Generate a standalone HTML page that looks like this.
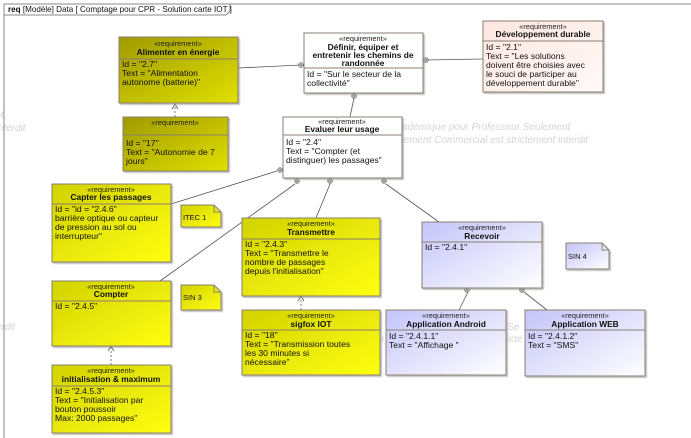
<!DOCTYPE html>
<html><head><meta charset="utf-8"><style>
html,body{margin:0;padding:0;background:#fff;}
svg{display:block;font-family:"Liberation Sans",sans-serif;}
.st{font-size:7.4px;text-anchor:middle;fill:#222}
.ti{font-size:8.4px;font-weight:bold;text-anchor:middle;fill:#111}
.bd{font-size:8.6px;fill:#111}
.wm{font-size:10px;font-style:italic;fill:#d4d4d4}
</style></head><body>
<svg width="691" height="438" viewBox="0 0 691 438">
<defs>
<linearGradient id="y" x1="0" y1="0" x2="1" y2="1"><stop offset="0" stop-color="#d2d200"/><stop offset="1" stop-color="#ffff10"/></linearGradient>
<linearGradient id="o" x1="0" y1="0" x2="1" y2="1"><stop offset="0" stop-color="#a09a00"/><stop offset="1" stop-color="#e0e000"/></linearGradient>
<linearGradient id="p" x1="0" y1="0" x2="1" y2="1"><stop offset="0" stop-color="#c4c4fa"/><stop offset="1" stop-color="#ffffff"/></linearGradient>
<linearGradient id="r" x1="0" y1="0" x2="1" y2="1"><stop offset="0" stop-color="#ffe6e0"/><stop offset="1" stop-color="#fffaf8"/></linearGradient>
<filter id="sh"><feDropShadow dx="1.5" dy="1.5" stdDeviation="0.6" flood-color="#999" flood-opacity="0.6"/></filter>
</defs>
<rect width="691" height="438" fill="#fff"/>
<text class="wm" x="-10" y="118">ent</text><text class="wm" x="-10" y="131">t interdit</text>
<text class="wm" x="402" y="130">adémique pour Professeur Seulement</text>
<text class="wm" x="398" y="143">pement Commercial est strictement interdit</text>
<text class="wm" x="-4" y="330">erdit</text>
<text class="wm" x="362" y="330">n Ac</text><text class="wm" x="360" y="342">velop</text>
<text class="wm" x="507" y="330">Se</text><text class="wm" x="507" y="342">icte</text>
<path d="M4 438 V4 H691" fill="none" stroke="#888" stroke-width="1"/>
<path d="M4 15 H226 L230 11 V4" fill="none" stroke="#888" stroke-width="1"/>
<text x="8" y="12" style="font-size:8.1px" fill="#111"><tspan font-weight="bold">req</tspan> [Modèle] Data [ Comptage pour CPR - Solution carte IOT ]</text>

<g stroke="#555" stroke-width="0.8" fill="none">
<line x1="238" y1="68" x2="301" y2="65"/>
<line x1="426" y1="60" x2="483" y2="59"/>
<line x1="354" y1="98" x2="350" y2="117"/>
<line x1="171" y1="204" x2="277" y2="171"/>
<line x1="295" y1="184" x2="160" y2="281"/>
<line x1="330" y1="184" x2="316" y2="218"/>
<line x1="386" y1="184" x2="439" y2="222"/>
<line x1="468" y1="292" x2="459" y2="310"/>
<line x1="524" y1="292" x2="547" y2="310"/>
<line x1="175" y1="117" x2="175" y2="105" stroke-dasharray="2,2"/>
<path d="M172 109 L175 104 L178 109"/>
<line x1="111" y1="365" x2="111" y2="347" stroke-dasharray="2,2"/>
<path d="M108 351 L111 346 L114 351"/>
<line x1="301" y1="310" x2="301" y2="297" stroke-dasharray="2,2"/>
<path d="M298 301 L301 296 L304 301"/>
</g>
<g stroke="#555" stroke-width="0.7" fill="#fff">
<circle cx="301" cy="65" r="2.3"/><path d="M298.7 65h4.6M301 62.7v4.6"/>
<circle cx="426" cy="60" r="2.3"/><path d="M423.7 60h4.6M426 57.7v4.6"/>
<circle cx="354" cy="96" r="2.3"/><path d="M351.7 96h4.6M354 93.7v4.6"/>
<circle cx="280" cy="170" r="2.3"/><path d="M277.7 170h4.6M280 167.7v4.6"/>
<circle cx="297" cy="181" r="2.3"/><path d="M294.7 181h4.6M297 178.7v4.6"/>
<circle cx="330" cy="181" r="2.3"/><path d="M327.7 181h4.6M330 178.7v4.6"/>
<circle cx="384" cy="181" r="2.3"/><path d="M381.7 181h4.6M384 178.7v4.6"/>
<circle cx="467" cy="290" r="2.3"/><path d="M464.7 290h4.6M467 287.7v4.6"/>
<circle cx="522" cy="290" r="2.3"/><path d="M519.7 290h4.6M522 287.7v4.6"/>
</g>

<g stroke="#8a7f70" stroke-width="1">
<rect x="119" y="37" width="119" height="66" fill="url(#o)" filter="url(#sh)"/>
<line x1="119" y1="59" x2="238" y2="59"/>
<rect x="123" y="117" width="105" height="54" fill="url(#o)" filter="url(#sh)"/>
<line x1="123" y1="135" x2="228" y2="135"/>
<rect x="304" y="33" width="119" height="60" fill="#fff" filter="url(#sh)"/>
<line x1="304" y1="68" x2="423" y2="68"/>
<rect x="483" y="21" width="120" height="71" fill="url(#r)" filter="url(#sh)"/>
<line x1="483" y1="41" x2="603" y2="41"/>
<rect x="283" y="117" width="119" height="61" fill="#fff" filter="url(#sh)"/>
<line x1="283" y1="135" x2="402" y2="135"/>
<rect x="52" y="184" width="119" height="78" fill="url(#y)" filter="url(#sh)"/>
<line x1="52" y1="204" x2="171" y2="204"/>
<rect x="52" y="281" width="119" height="65" fill="url(#y)" filter="url(#sh)"/>
<line x1="52" y1="301" x2="171" y2="301"/>
<rect x="52" y="365" width="119" height="68" fill="url(#y)" filter="url(#sh)"/>
<line x1="52" y1="386" x2="171" y2="386"/>
<rect x="242" y="218" width="138" height="78" fill="url(#y)" filter="url(#sh)"/>
<line x1="242" y1="239" x2="380" y2="239"/>
<rect x="242" y="310" width="138" height="65" fill="url(#y)" filter="url(#sh)"/>
<line x1="242" y1="330" x2="380" y2="330"/>
<rect x="422" y="222" width="120" height="66" fill="url(#p)" filter="url(#sh)"/>
<line x1="422" y1="242" x2="542" y2="242"/>
<rect x="386" y="310" width="120" height="65" fill="url(#p)" filter="url(#sh)"/>
<line x1="386" y1="330" x2="506" y2="330"/>
<rect x="525" y="310" width="120" height="66" fill="url(#p)" filter="url(#sh)"/>
<line x1="525" y1="330" x2="645" y2="330"/>
<path d="M181 205 H214 L221 212 V227 H181 Z" fill="url(#y)" filter="url(#sh)"/>
<path d="M214 205 V212 H221" fill="none"/>
<path d="M181 285 H214 L221 292 V310 H181 Z" fill="url(#y)" filter="url(#sh)"/>
<path d="M214 285 V292 H221" fill="none"/>
<path d="M566 243 H602 L609 250 V269 H566 Z" fill="url(#p)" filter="url(#sh)"/>
<path d="M602 243 V250 H609" fill="none"/>
</g>

<text class="st" x="178" y="46">«requirement»</text>
<text class="ti" x="178" y="55">Alimenter en énergie</text>
<text class="bd" x="122" y="67">Id = "2.7"</text>
<text class="bd" x="122" y="76">Text = "Alimentation</text>
<text class="bd" x="122" y="85">autonome (batterie)"</text>

<text class="st" x="175" y="125">«requirement»</text>
<text class="bd" x="126" y="146">Id = "17"</text>
<text class="bd" x="126" y="155">Text = "Autonomie de 7</text>
<text class="bd" x="126" y="164">jours"</text>

<text class="st" x="363" y="41">«requirement»</text>
<text class="ti" x="363" y="50">Définir, équiper et</text>
<text class="ti" x="363" y="58">entretenir les chemins de</text>
<text class="ti" x="363" y="66">randonnée</text>
<text class="bd" x="307" y="77">Id = "Sur le secteur de la</text>
<text class="bd" x="307" y="86">collectivité"</text>

<text class="st" x="543" y="29">«requirement»</text>
<text class="ti" x="543" y="37">Développement durable</text>
<text class="bd" x="486" y="50">Id = "2.1"</text>
<text class="bd" x="486" y="59">Text = "Les solutions</text>
<text class="bd" x="486" y="68">doivent être choisies avec</text>
<text class="bd" x="486" y="77">le souci de participer au</text>
<text class="bd" x="486" y="86">développement durable"</text>

<text class="st" x="342" y="124">«requirement»</text>
<text class="ti" x="342" y="132">Evaluer leur usage</text>
<text class="bd" x="286" y="145">Id = "2.4"</text>
<text class="bd" x="286" y="154">Text = "Compter (et</text>
<text class="bd" x="286" y="163">distinguer) les passages"</text>

<text class="st" x="111" y="192">«requirement»</text>
<text class="ti" x="111" y="200">Capter les passages</text>
<text class="bd" x="55" y="212">Id = "id = "2.4.6"</text>
<text class="bd" x="55" y="221">barrière optique ou capteur</text>
<text class="bd" x="55" y="230">de pression au sol ou</text>
<text class="bd" x="55" y="239">interrupteur"</text>

<text class="st" x="111" y="289">«requirement»</text>
<text class="ti" x="111" y="297">Compter</text>
<text class="bd" x="55" y="309">Id = "2.4.5"</text>

<text class="st" x="111" y="373">«requirement»</text>
<text class="ti" x="111" y="382">initialisation &amp; maximum</text>
<text class="bd" x="55" y="394">Id = "2.4.5.3"</text>
<text class="bd" x="55" y="403">Text = "Initialisation par</text>
<text class="bd" x="55" y="412">bouton poussoir</text>
<text class="bd" x="55" y="421">Max: 2000 passages"</text>

<text class="st" x="311" y="226">«requirement»</text>
<text class="ti" x="311" y="235">Transmettre</text>
<text class="bd" x="245" y="247">Id = "2.4.3"</text>
<text class="bd" x="245" y="256">Text = "Transmettre le</text>
<text class="bd" x="245" y="265">nombre de passages</text>
<text class="bd" x="245" y="274">depuis l'initialisation"</text>

<text class="st" x="311" y="318">«requirement»</text>
<text class="ti" x="311" y="327">sigfox IOT</text>
<text class="bd" x="245" y="338">Id = "18"</text>
<text class="bd" x="245" y="347">Text = "Transmission toutes</text>
<text class="bd" x="245" y="356">les 30 minutes si</text>
<text class="bd" x="245" y="365">nécessaire"</text>

<text class="st" x="482" y="230">«requirement»</text>
<text class="ti" x="482" y="239">Recevoir</text>
<text class="bd" x="425" y="250">Id = "2.4.1"</text>

<text class="st" x="446" y="318">«requirement»</text>
<text class="ti" x="446" y="327">Application Android</text>
<text class="bd" x="389" y="339">Id = "2.4.1.1"</text>
<text class="bd" x="389" y="348">Text = "Affichage "</text>

<text class="st" x="585" y="318">«requirement»</text>
<text class="ti" x="585" y="327">Application WEB</text>
<text class="bd" x="528" y="339">Id = "2.4.1.2"</text>
<text class="bd" x="528" y="348">Text = "SMS"</text>

<text class="bd" x="183" y="220" style="font-size:7.5px">ITEC 1</text>
<text class="bd" x="183" y="300" style="font-size:7.5px">SIN 3</text>
<text class="bd" x="568" y="259" style="font-size:7.5px">SIN 4</text>
</svg>
</body></html>
